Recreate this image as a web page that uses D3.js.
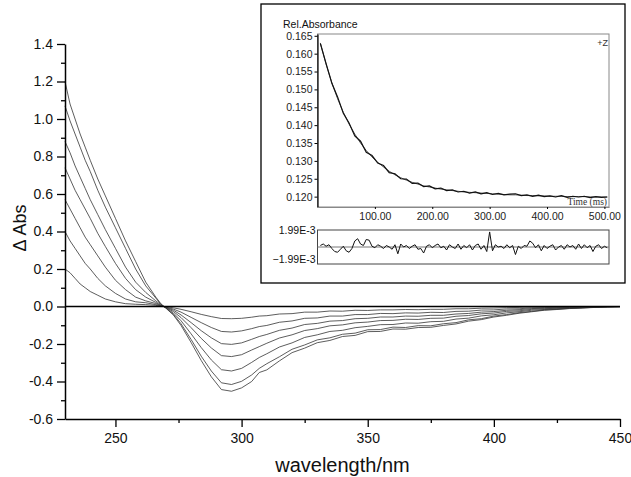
<!DOCTYPE html>
<html><head><meta charset="utf-8">
<script src="https://cdn.jsdelivr.net/npm/d3@7"></script>
<style>
html,body{margin:0;padding:0;background:#fff;}
svg{display:block;font-family:"Liberation Sans",Arial,sans-serif;}
</style></head>
<body><svg id="c" width="631" height="477"></svg>
<script>
// ---------- main spectra ----------
const wavelengths = [230,232,234,236,238,240,243,246,250,254,258,262,266,268,
  270,273,276,280,284,288,292,296,300,304,307,310,315,320,325,330,335,340,345,350,
  355,360,365,370,375,380,385,390,395,400,405,410,415,420,425,430,435,440,445,450];
const spectrum1 = [1.20,1.08,1.00,0.92,0.85,0.78,0.68,0.59,0.47,0.35,0.24,0.13,0.05,0.015,
  -0.009,-0.046,-0.101,-0.192,-0.288,-0.375,-0.443,-0.452,-0.434,-0.40,
  -0.352,-0.338,-0.29,-0.246,-0.222,-0.193,-0.181,-0.160,-0.154,-0.134,
  -0.133,-0.120,-0.121,-0.112,-0.111,-0.101,-0.093,-0.078,-0.070,-0.056,
  -0.047,-0.036,-0.028,-0.020,-0.016,-0.011,-0.008,-0.005,-0.002,-0.001];
const spectrum2 = [1.07,0.99,0.92,0.85,0.78,0.72,0.62,0.53,0.42,0.31,0.20,0.11,0.045,0.012,
  -0.008,-0.042,-0.092,-0.176,-0.265,-0.344,-0.407,-0.416,-0.399,-0.365,
  -0.33,-0.305,-0.268,-0.228,-0.205,-0.178,-0.167,-0.148,-0.142,-0.124,
  -0.123,-0.110,-0.112,-0.102,-0.103,-0.092,-0.086,-0.071,-0.065,-0.051,
  -0.043,-0.033,-0.026,-0.018,-0.015,-0.010,-0.008,-0.004,-0.002,-0.001];
const spectrum3 = [0.88,0.82,0.75,0.69,0.63,0.57,0.49,0.41,0.31,0.21,0.13,0.075,0.03,0.01,
  -0.007,-0.035,-0.076,-0.146,-0.219,-0.285,-0.337,-0.344,-0.330,-0.298,
  -0.272,-0.252,-0.216,-0.194,-0.165,-0.151,-0.133,-0.127,-0.113,-0.106,
  -0.097,-0.096,-0.088,-0.089,-0.081,-0.079,-0.067,-0.062,-0.050,-0.044,
  -0.034,-0.028,-0.020,-0.016,-0.012,-0.009,-0.006,-0.003,-0.002,-0.001];
const spectrum4 = [0.74,0.68,0.62,0.57,0.52,0.47,0.39,0.32,0.23,0.15,0.09,0.05,0.022,0.006,
  -0.005,-0.027,-0.059,-0.113,-0.170,-0.221,-0.262,-0.267,-0.257,-0.232,
  -0.214,-0.196,-0.168,-0.151,-0.128,-0.118,-0.103,-0.098,-0.087,-0.083,
  -0.075,-0.074,-0.068,-0.069,-0.063,-0.062,-0.052,-0.048,-0.039,-0.035,
  -0.026,-0.023,-0.015,-0.012,-0.009,-0.007,-0.005,-0.003,-0.001,-0.001];
const spectrum5 = [0.57,0.52,0.47,0.42,0.37,0.33,0.27,0.21,0.14,0.09,0.05,0.03,0.016,0.004,
  -0.004,-0.020,-0.045,-0.086,-0.129,-0.167,-0.198,-0.202,-0.194,-0.175,
  -0.160,-0.149,-0.127,-0.115,-0.096,-0.090,-0.078,-0.075,-0.065,-0.063,
  -0.056,-0.056,-0.051,-0.052,-0.047,-0.047,-0.040,-0.037,-0.030,-0.027,
  -0.020,-0.017,-0.011,-0.009,-0.007,-0.005,-0.004,-0.002,-0.001,0];
const spectrum6 = [0.40,0.35,0.31,0.27,0.23,0.20,0.15,0.11,0.07,0.04,0.025,0.02,0.01,0.003,
  -0.003,-0.014,-0.030,-0.058,-0.086,-0.112,-0.133,-0.136,-0.130,-0.118,
  -0.107,-0.101,-0.084,-0.077,-0.063,-0.061,-0.051,-0.051,-0.043,-0.043,
  -0.037,-0.038,-0.034,-0.035,-0.031,-0.032,-0.026,-0.025,-0.019,-0.018,
  -0.013,-0.012,-0.007,-0.006,-0.004,-0.003,-0.002,-0.001,-0.001,0];
const spectrum7 = [0.20,0.18,0.15,0.12,0.10,0.08,0.06,0.04,0.025,0.015,0.012,0.01,0.006,0.002,
  -0.001,-0.007,-0.015,-0.028,-0.042,-0.054,-0.064,-0.065,-0.063,-0.057,
  -0.051,-0.049,-0.040,-0.038,-0.030,-0.030,-0.024,-0.025,-0.020,-0.021,
  -0.018,-0.018,-0.016,-0.017,-0.015,-0.015,-0.012,-0.012,-0.009,-0.008,
  -0.006,-0.005,-0.003,-0.003,-0.002,-0.002,-0.001,-0.001,0,0];
const spectra = [spectrum1,spectrum2,spectrum3,spectrum4,spectrum5,spectrum6,spectrum7];
const xTicks = [250,300,350,400,450];
const xMinorTicks = [275,325,375,425];
const yTicks = [-0.6,-0.4,-0.2,0.0,0.2,0.4,0.6,0.8,1.0,1.2,1.4];
const yMinorTicks = [-0.5,-0.3,-0.1,0.1,0.3,0.5,0.7,0.9,1.1,1.3];

// ---------- inset: kinetic trace ----------
const fitTimes = d3.range(5, 506, 10);
const fitValues = [.1630,.1570,.1519,.1474,.1436,.1403,.1375,.1350,.1329,.1311,
  .1296,.1283,.1271,.1261,.1253,.1246,.1240,.1235,.1230,.1227,
  .1224,.1221,.1219,.1217,.1215,.1213,.1212,.1211,.1210,.1209,
  .1208,.1207,.1206,.1205,.1205,.1204,.1203,.1203,.1202,.1202,
  .1201,.1201,.1201,.1200,.1200,.1200,.1200,.1199,.1199,.1199,.1199];
const rawValues = [.1628,.1572,.1517,.1479,.1433,.1406,.1370,.1355,.1324,.1315,
  .1294,.1287,.1267,.1264,.1250,.1249,.1237,.1238,.1228,.1230,
  .1222,.1224,.1217,.1219,.1213,.1215,.1210,.1213,.1208,.1211,
  .1206,.1209,.1205,.1207,.1208,.1203,.1205,.1201,.1204,.1200,
  .1202,.1199,.1203,.1198,.1201,.1199,.1201,.1197,.1200,.1198,.1199];
const insetYTicks = [0.120,0.125,0.130,0.135,0.140,0.145,0.150,0.155,0.160,0.165];
const insetXTicks = [100,200,300,400,500];
// residuals (units of 1E-3), sampled every 5 ms
const residTimes = d3.range(5, 506, 5);
const residValues = [0.2,0.4,0.1,0.3,-0.2,-0.6,-0.7,-0.3,0.1,-0.5,
  -0.7,-0.2,0.8,1.1,0.4,0.2,1.0,0.9,0.1,-0.1,
  0.3,0.1,-0.2,0.2,0.0,-0.3,0.3,-0.9,0.4,0.0,
  0.2,-0.2,0.1,0.3,-0.3,-0.2,-0.8,0.1,0.3,-0.1,
  0.2,0.4,-0.1,0.1,-0.4,0.3,0.0,-0.2,0.4,-0.3,
  0.2,-0.1,0.3,-0.4,0.2,0.4,-0.3,0.2,-0.6,2.0,
  -0.5,0.3,0.0,0.1,-0.2,0.3,-0.1,0.2,-1.0,0.1,
  -0.2,0.2,0.1,0.8,0.5,-0.1,0.3,-0.5,0.2,-0.2,
  0.1,0.3,-0.4,0.0,0.2,-0.3,0.3,0.0,0.2,-0.3,
  0.4,-0.2,0.3,-0.1,0.2,-0.6,0.1,0.3,-0.2,0.1,-0.1];

const svg = d3.select("#c");
const x = d3.scaleLinear([230,450],[65,620]);
const y = d3.scaleLinear([-0.6,1.4],[419,44]);

// spectra
const line = d3.line().x((d,i)=>x(wavelengths[i])).y(d=>y(d));
svg.append("g").selectAll("path").data(spectra).join("path")
  .attr("d", line).attr("fill","none").attr("stroke","#333").attr("stroke-width",0.8);

// zero line
svg.append("line").attr("x1",x(230)).attr("x2",x(450)).attr("y1",y(0)).attr("y2",y(0))
  .attr("stroke","#000").attr("stroke-width",1.5);

const fmt1 = d => d.toFixed(1);
const yAx = svg.append("g").attr("transform",`translate(${x(230)},0)`)
  .call(d3.axisLeft(y).tickValues(yTicks).tickFormat(fmt1).tickSize(8).tickSizeOuter(0).tickPadding(4));
svg.append("g").attr("transform",`translate(${x(230)},0)`)
  .call(d3.axisLeft(y).tickValues(yMinorTicks).tickFormat("").tickSize(4).tickSizeOuter(0))
  .call(g=>g.select(".domain").remove());
const xAx = svg.append("g").attr("transform",`translate(0,${y(-0.6)})`)
  .call(d3.axisBottom(x).tickValues(xTicks).tickSize(8).tickSizeOuter(0).tickPadding(6));
svg.append("g").attr("transform",`translate(0,${y(-0.6)})`)
  .call(d3.axisBottom(x).tickValues(xMinorTicks).tickFormat("").tickSize(4).tickSizeOuter(0))
  .call(g=>g.select(".domain").remove());
svg.selectAll(".tick text").attr("font-size",14).attr("fill","#111").attr("font-family","Liberation Sans, Arial, sans-serif");
svg.selectAll(".domain").attr("stroke-width",1.5);
svg.selectAll(".tick line").attr("stroke-width",1.3);

svg.append("text").attr("x",(x(230)+x(450))/2).attr("y",472).attr("text-anchor","middle")
  .attr("font-size",20).attr("fill","#111").text("wavelength/nm");
svg.append("text").attr("transform",`translate(26,228) rotate(-90)`).attr("text-anchor","middle")
  .attr("font-size",18).attr("fill","#111").text("Δ Abs");

// ---------- inset ----------
const ins = svg.append("g");
ins.append("rect").attr("x",261).attr("y",4).attr("width",364).attr("height",279)
  .attr("fill","#fff").attr("stroke","#000").attr("stroke-width",1.3);
const xi = d3.scaleLinear([0,508],[317.5,609]);
const yi = d3.scaleLinear([0.1171,0.1655],[207,34]);
ins.append("rect").attr("x",xi(0)).attr("y",yi(0.1655)).attr("width",xi(508)-xi(0)).attr("height",yi(0.1171)-yi(0.1655))
  .attr("fill","none").attr("stroke","#888").attr("stroke-width",1);
const yiAx = ins.append("g").attr("transform",`translate(${xi(0)},0)`)
  .call(d3.axisLeft(yi).tickValues(insetYTicks).tickFormat(d=>d.toFixed(3)).tickSize(3).tickSizeOuter(0).tickPadding(2));
yiAx.select(".domain").attr("stroke","#000").attr("stroke-width",1.2);
const xiAx = ins.append("g").attr("transform",`translate(0,${yi(0.1171)})`)
  .call(d3.axisBottom(xi).tickValues(insetXTicks).tickFormat(d=>d.toFixed(2)).tickSize(2).tickSizeOuter(0).tickPadding(4));
xiAx.select(".domain").attr("stroke","#888");
ins.selectAll(".tick text").attr("font-size",10.5).attr("fill","#222");
ins.append("path").datum(fitValues)
  .attr("d", d3.line().x((d,i)=>xi(fitTimes[i])).y(d=>yi(d)))
  .attr("fill","none").attr("stroke","#555").attr("stroke-width",1);
ins.append("path").datum(rawValues)
  .attr("d", d3.line().x((d,i)=>xi(fitTimes[i])).y(d=>yi(d)))
  .attr("fill","none").attr("stroke","#111").attr("stroke-width",1.2);
ins.append("text").attr("x",283).attr("y",28).attr("font-size",10.5).attr("fill","#111").text("Rel.Absorbance");
ins.append("text").attr("x",607).attr("y",205).attr("text-anchor","end").attr("font-size",9.5)
  .attr("font-family","Liberation Serif, Times New Roman, serif").attr("fill","#333").text("Time (ms)");
ins.append("text").attr("x",608).attr("y",46).attr("text-anchor","end").attr("font-size",9)
  .attr("fill","#333").text("+Z");

// residual panel
const yr = d3.scaleLinear([-1.99,1.99],[262,232]);
ins.append("rect").attr("x",xi(0)).attr("y",230).attr("width",xi(508)-xi(0)).attr("height",34)
  .attr("fill","none").attr("stroke","#444").attr("stroke-width",1);
ins.append("line").attr("x1",xi(0)).attr("x2",xi(508)).attr("y1",yr(0)).attr("y2",yr(0))
  .attr("stroke","#777").attr("stroke-width",1);
ins.append("path").datum(residValues)
  .attr("d", d3.line().x((d,i)=>xi(residTimes[i])).y(d=>yr(d)))
  .attr("fill","none").attr("stroke","#111").attr("stroke-width",1);
ins.append("text").attr("x",xi(0)-2).attr("y",yr(1.99)+2).attr("text-anchor","end").attr("font-size",10.5).attr("fill","#111").text("1.99E-3");
ins.append("text").attr("x",xi(0)-2).attr("y",yr(-1.99)+1).attr("text-anchor","end").attr("font-size",10.5).attr("fill","#111").text("−1.99E-3");
</script></body></html>
